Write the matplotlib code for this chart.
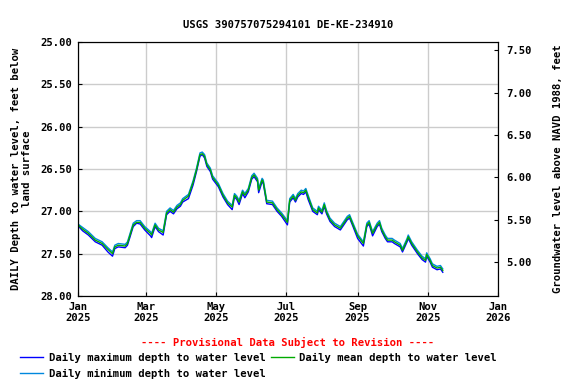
import matplotlib.pyplot as plt
import numpy as np
import datetime as dt
from matplotlib.lines import Line2D

# days since 2025-01-01 where values were read
days = [0, 4, 9, 15, 21, 26, 30, 32, 35, 41, 43, 48, 51, 54, 58, 63, 64, 67, 70, 74,
        77, 80, 83, 86, 89, 91, 96, 100, 103, 106, 108, 110, 112, 115, 117, 122, 126, 130, 134, 136,
        138, 140, 143, 145, 148, 151, 153, 156, 157, 160, 161, 163, 164, 169, 173, 177, 182, 184, 187, 189,
        191, 194, 196, 198, 200, 204, 208, 209, 212, 214, 216, 219, 223, 228, 230, 234, 236, 239, 243, 248,
        251, 253, 256, 260, 262, 264, 267, 269, 273, 275, 280, 282, 286, 287, 290, 295, 299, 302, 303, 306,
        308, 312, 315, 317]

mean_depth = [27.16, 27.21, 27.26, 27.34, 27.38, 27.45, 27.50, 27.42, 27.40, 27.41,
              27.38, 27.16, 27.13, 27.13, 27.20, 27.26, 27.28, 27.16, 27.22, 27.25,
              27.02, 26.98, 27.01, 26.95, 26.92, 26.87, 26.82, 26.66, 26.51, 26.33,
              26.32, 26.35, 26.45, 26.51, 26.60, 26.69, 26.81, 26.90, 26.95, 26.81,
              26.84, 26.89, 26.77, 26.81, 26.75, 26.60, 26.57, 26.63, 26.75, 26.63,
              26.65, 26.81, 26.89, 26.90, 26.98, 27.04, 27.13, 26.87, 26.82, 26.87,
              26.81, 26.77, 26.78, 26.75, 26.83, 26.98, 27.02, 26.96, 27.01, 26.92,
              27.01, 27.10, 27.16, 27.20, 27.16, 27.08, 27.06, 27.16, 27.29, 27.38,
              27.16, 27.13, 27.26, 27.16, 27.13, 27.22, 27.30, 27.34, 27.34, 27.36,
              27.40, 27.46, 27.34, 27.30, 27.38, 27.48, 27.55, 27.58, 27.51, 27.58,
              27.64, 27.67, 27.66, 27.70]

max_depth = [27.17, 27.23, 27.28, 27.36, 27.40, 27.48, 27.53, 27.44, 27.42, 27.43,
             27.40, 27.18, 27.14, 27.15, 27.22, 27.29, 27.31, 27.18, 27.24, 27.28,
             27.04, 27.00, 27.03, 26.97, 26.94, 26.89, 26.85, 26.69, 26.53, 26.35,
             26.33, 26.37, 26.47, 26.53, 26.62, 26.71, 26.83, 26.92, 26.98, 26.83,
             26.86, 26.92, 26.79, 26.84, 26.77, 26.62, 26.59, 26.65, 26.78, 26.65,
             26.67, 26.83, 26.91, 26.92, 27.00, 27.06, 27.16, 26.89, 26.84, 26.89,
             26.83, 26.79, 26.80, 26.77, 26.86, 27.00, 27.04, 26.98, 27.03, 26.94,
             27.03, 27.12, 27.18, 27.22, 27.18, 27.10, 27.08, 27.18, 27.32, 27.41,
             27.18, 27.15, 27.29, 27.18, 27.15, 27.24, 27.32, 27.36, 27.36, 27.38,
             27.42, 27.48, 27.36, 27.32, 27.40, 27.50, 27.57, 27.60, 27.53, 27.60,
             27.66, 27.69, 27.68, 27.72]

min_depth = [27.15, 27.19, 27.24, 27.32, 27.36, 27.43, 27.48, 27.40, 27.38, 27.39,
             27.36, 27.14, 27.11, 27.11, 27.18, 27.24, 27.26, 27.14, 27.20, 27.23,
             27.00, 26.96, 26.99, 26.93, 26.90, 26.85, 26.80, 26.64, 26.49, 26.31,
             26.30, 26.33, 26.43, 26.49, 26.58, 26.67, 26.79, 26.88, 26.93, 26.79,
             26.82, 26.87, 26.75, 26.79, 26.73, 26.58, 26.55, 26.61, 26.73, 26.61,
             26.63, 26.79, 26.87, 26.88, 26.96, 27.02, 27.11, 26.85, 26.80, 26.85,
             26.79, 26.75, 26.76, 26.73, 26.81, 26.96, 27.00, 26.94, 26.99, 26.90,
             26.99, 27.08, 27.14, 27.18, 27.14, 27.06, 27.04, 27.14, 27.27, 27.36,
             27.14, 27.11, 27.24, 27.14, 27.11, 27.20, 27.28, 27.32, 27.32, 27.34,
             27.38, 27.44, 27.32, 27.28, 27.36, 27.46, 27.53, 27.56, 27.49, 27.56,
             27.62, 27.65, 27.64, 27.68]

datum = 32.6  # NAVD 1988 elevation of land surface (approx)

start = dt.date(2025, 1, 1)
dates = [start + dt.timedelta(days=d) for d in days]

plt.rcParams['font.family'] = 'DejaVu Sans Mono'
plt.rcParams['font.weight'] = 'bold'
plt.rcParams['axes.titleweight'] = 'bold'
plt.rcParams['axes.labelweight'] = 'bold'
fs = 7.6

fig = plt.figure(figsize=(5.76, 3.84), dpi=100)
ax = fig.add_axes([0.1354, 0.2292, 0.7292, 0.6614])

ax.plot(dates, max_depth, color='#0000ff', lw=1)
ax.plot(dates, min_depth, color='#0088dd', lw=1)
ax.plot(dates, mean_depth, color='#00aa00', lw=1)

ax.set_ylim(28.0, 25.0)
ax.set_yticks(np.arange(25.0, 28.01, 0.5))
ax.set_yticklabels(['%.2f' % v for v in np.arange(25.0, 28.01, 0.5)], fontsize=fs, fontweight='bold')
ax.set_xlim(dt.date(2025, 1, 1), dt.date(2026, 1, 1))
xt = [dt.date(2025, m, 1) for m in (1, 3, 5, 7, 9, 11)] + [dt.date(2026, 1, 1)]
ax.set_xticks(xt)
ax.set_xticklabels([d.strftime('%b') + '\n' + d.strftime('%Y') for d in xt], fontsize=fs, fontweight='bold')
ax.grid(True, color='#cccccc', lw=1)
ax.tick_params(direction='in', length=3, pad=4)
ax.set_ylabel('DAILY Depth to water level, feet below\nland surface', fontsize=fs, labelpad=6)
ax.set_title('USGS 390757075294101 DE-KE-234910', fontsize=fs, pad=10)

ax2 = ax.twinx()
ax2.set_ylim(datum - 28.0, datum - 25.0)
ax2.set_yticks(np.arange(5.0, 7.51, 0.5))
ax2.set_yticklabels(['%.2f' % v for v in np.arange(5.0, 7.51, 0.5)], fontsize=fs, fontweight='bold')
ax2.tick_params(direction='in', length=3, pad=6)
ax2.set_ylabel('Groundwater level above NAVD 1988, feet', fontsize=fs, labelpad=15)

fig.text(0.5, 0.107, '---- Provisional Data Subject to Revision ----', color='red',
         ha='center', va='center', fontsize=fs, fontweight='bold')

h1 = Line2D([], [], color='#0000ff', lw=1)
h2 = Line2D([], [], color='#00aa00', lw=1)
h3 = Line2D([], [], color='#0088dd', lw=1)
leg = fig.legend([h1, h3, h2], ['Daily maximum depth to water level', 'Daily minimum depth to water level',
                                'Daily mean depth to water level'],
                 loc='upper left', bbox_to_anchor=(0.035, 0.082), ncol=2, frameon=False,
                 prop={'size': fs, 'weight': 'bold'}, handlelength=2.2, handletextpad=0.5,
                 columnspacing=0.5, labelspacing=0.6, borderpad=0, borderaxespad=0)

fig.savefig('out.png', dpi=100)
